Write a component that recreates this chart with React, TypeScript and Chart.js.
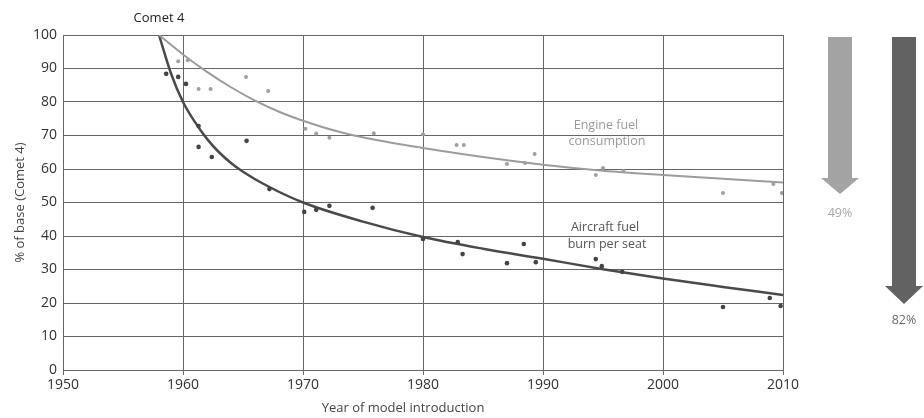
import React, { useEffect, useRef } from "react";
import { Chart, registerables } from "chart.js";

Chart.register(...registerables);

// Scatter data: [year, % of base]
const aircraftYears = [1958.6, 1959.6, 1960.25, 1961.3, 1961.3, 1962.4, 1965.3, 1967.2, 1970.1, 1971.1, 1972.2, 1975.8, 1980, 1982.9, 1983.3, 1987, 1988.4, 1989.4, 1994.4, 1994.9, 1996.6, 2005, 2008.9, 2009.8];
const aircraftValues = [88.4, 87.5, 85.4, 72.8, 66.6, 63.6, 68.4, 54.0, 47.2, 47.8, 49.0, 48.4, 39.1, 38.2, 34.6, 31.9, 37.6, 32.2, 33.1, 31.0, 29.3, 18.8, 21.5, 19.1];

const engineYears = [1959.6, 1960.4, 1961.3, 1962.3, 1965.25, 1967.1, 1970.2, 1971.1, 1972.2, 1975.9, 1980, 1982.8, 1983.4, 1987, 1988.5, 1989.3, 1994.4, 1995, 1996.7, 2005, 2009.2, 2009.9];
const engineValues = [92.2, 92.5, 83.9, 83.9, 87.5, 83.3, 72.0, 70.6, 69.3, 70.7, 70.4, 67.2, 67.2, 61.5, 61.8, 64.5, 58.2, 60.3, 59.4, 52.8, 55.5, 52.8];

// Trend curves
const engineCurveYears = [1958, 1960, 1962, 1964, 1966, 1968, 1970, 1973, 1976, 1980, 1985, 1990, 1995, 2000, 2005, 2010];
const engineCurveValues = [100, 94.2, 89, 84.4, 80.4, 77.1, 74.4, 71.1, 68.7, 66.3, 63.6, 61.3, 59.5, 58.2, 57.1, 56];

const aircraftCurveYears = [1958, 1959, 1960, 1961, 1962, 1963, 1964, 1965, 1967, 1970, 1975, 1980, 1985, 1990, 1995, 2000, 2005, 2010];
const aircraftCurveValues = [100, 88.5, 80, 74, 69, 65, 61.8, 59.2, 55, 50, 44.3, 39.7, 36.2, 33.2, 30.1, 27.3, 24.8, 22.4];

const xTicks = [1950, 1960, 1970, 1980, 1990, 2000, 2010];
const yTicks = [0, 10, 20, 30, 40, 50, 60, 70, 80, 90, 100];

const reductionLabels = ["49%", "82%"];

const pts = (xs: number[], ys: number[]) => xs.map((x, i) => ({ x, y: ys[i] }));

const FONT = "'Open Sans', 'Noto Sans', sans-serif";

const annotationPlugin = {
  id: "annotations",
  afterDraw(chart: any) {
    const { ctx, scales } = chart;
    const xs = scales.x;
    const ys = scales.y;
    ctx.save();
    ctx.textAlign = "center";
    ctx.textBaseline = "middle";

    // Comet 4 label
    ctx.fillStyle = "#222";
    ctx.font = `13px ${FONT}`;
    ctx.fillText("Comet 4", xs.getPixelForValue(1958), 18);

    // Series labels
    ctx.font = `12.5px ${FONT}`;
    ctx.fillStyle = "#9a9a9a";
    ctx.fillText("Engine fuel", 606, 125);
    ctx.fillText("consumption", 607, 141);
    ctx.fillStyle = "#555";
    ctx.fillText("Aircraft fuel", 605, 227);
    ctx.fillText("burn per seat", 607, 244);

    // Axis titles
    ctx.fillStyle = "#444";
    ctx.font = `13px ${FONT}`;
    ctx.fillText("Year of model introduction", 403, 408);
    ctx.save();
    ctx.translate(20, (ys.top + ys.bottom) / 2);
    ctx.rotate(-Math.PI / 2);
    ctx.fillText("% of base (Comet 4)", 0, 0);
    ctx.restore();

    // Arrows
    const arrow = (cx: number, top: number, headTop: number, tip: number, shaftW: number, headW: number, color: string) => {
      ctx.fillStyle = color;
      ctx.beginPath();
      ctx.moveTo(cx - shaftW / 2, top);
      ctx.lineTo(cx + shaftW / 2, top);
      ctx.lineTo(cx + shaftW / 2, headTop);
      ctx.lineTo(cx + headW / 2, headTop);
      ctx.lineTo(cx, tip);
      ctx.lineTo(cx - headW / 2, headTop);
      ctx.lineTo(cx - shaftW / 2, headTop);
      ctx.closePath();
      ctx.fill();
    };
    arrow(840, 37, 178, 194, 24, 38, "#a3a3a3");
    arrow(904, 37, 286, 304, 24, 38, "#626262");
    ctx.font = `12.5px ${FONT}`;
    ctx.fillStyle = "#a8a8a8";
    ctx.fillText(reductionLabels[0], 840, 213);
    ctx.fillStyle = "#6a6a6a";
    ctx.fillText(reductionLabels[1], 904, 320);
    ctx.restore();
  },
};

export default function App() {
  const ref = useRef<HTMLCanvasElement | null>(null);
  useEffect(() => {
    if (!ref.current) return;
    const chart = new Chart(ref.current, {
      type: "scatter",
      data: {
        datasets: [
          {
            label: "Engine fuel consumption",
            data: pts(engineYears, engineValues),
            backgroundColor: "#a0a0a0",
            borderColor: "#a0a0a0",
            pointRadius: 2,
            pointBorderWidth: 0,
          },
          {
            label: "Aircraft fuel burn per seat",
            data: pts(aircraftYears, aircraftValues),
            backgroundColor: "#444",
            borderColor: "#444",
            pointRadius: 2.3,
            pointBorderWidth: 0,
          },
          {
            label: "Engine trend",
            data: pts(engineCurveYears, engineCurveValues),
            showLine: true,
            borderColor: "#9c9c9c",
            borderWidth: 2,
            pointRadius: 0,
            cubicInterpolationMode: "monotone",
          } as any,
          {
            label: "Aircraft trend",
            data: pts(aircraftCurveYears, aircraftCurveValues),
            showLine: true,
            borderColor: "#4a4a4a",
            borderWidth: 2.5,
            pointRadius: 0,
            cubicInterpolationMode: "monotone",
          } as any,
        ],
      },
      options: {
        animation: false,
        responsive: false,
        layout: { padding: { left: 0, top: 35, right: 141, bottom: 0 } },
        plugins: { legend: { display: false }, tooltip: { enabled: false } },
        scales: {
          x: {
            type: "linear",
            min: 1950,
            max: 2010,
            afterFit: (s: any) => { s.height = 48; },
            afterBuildTicks: (s: any) => { s.ticks = xTicks.map((v) => ({ value: v })); },
            ticks: {
              callback: (v: any) => String(v),
              color: "#333",
              font: { family: FONT, size: 14 },
              padding: 2,
              maxRotation: 0,
            },
            grid: { color: "#666", lineWidth: 1, tickLength: 5 },
            border: { color: "#666", width: 1 },
          },
          y: {
            min: 0,
            max: 100,
            afterFit: (s: any) => { s.width = 63; },
            afterBuildTicks: (s: any) => { s.ticks = yTicks.map((v) => ({ value: v })); },
            ticks: {
              color: "#333",
              font: { family: FONT, size: 14 },
              padding: 6,
            },
            grid: { color: "#666", lineWidth: 1, drawTicks: false },
            border: { color: "#666", width: 1 },
          },
        },
      },
      plugins: [annotationPlugin],
    });
    return () => chart.destroy();
  }, []);
  return (
    <div style={{ position: "fixed", left: 0, top: 0, width: 924, height: 418, background: "#fff" }}>
      <canvas ref={ref} width={924} height={418} style={{ width: 924, height: 418, display: "block" }} />
    </div>
  );
}
